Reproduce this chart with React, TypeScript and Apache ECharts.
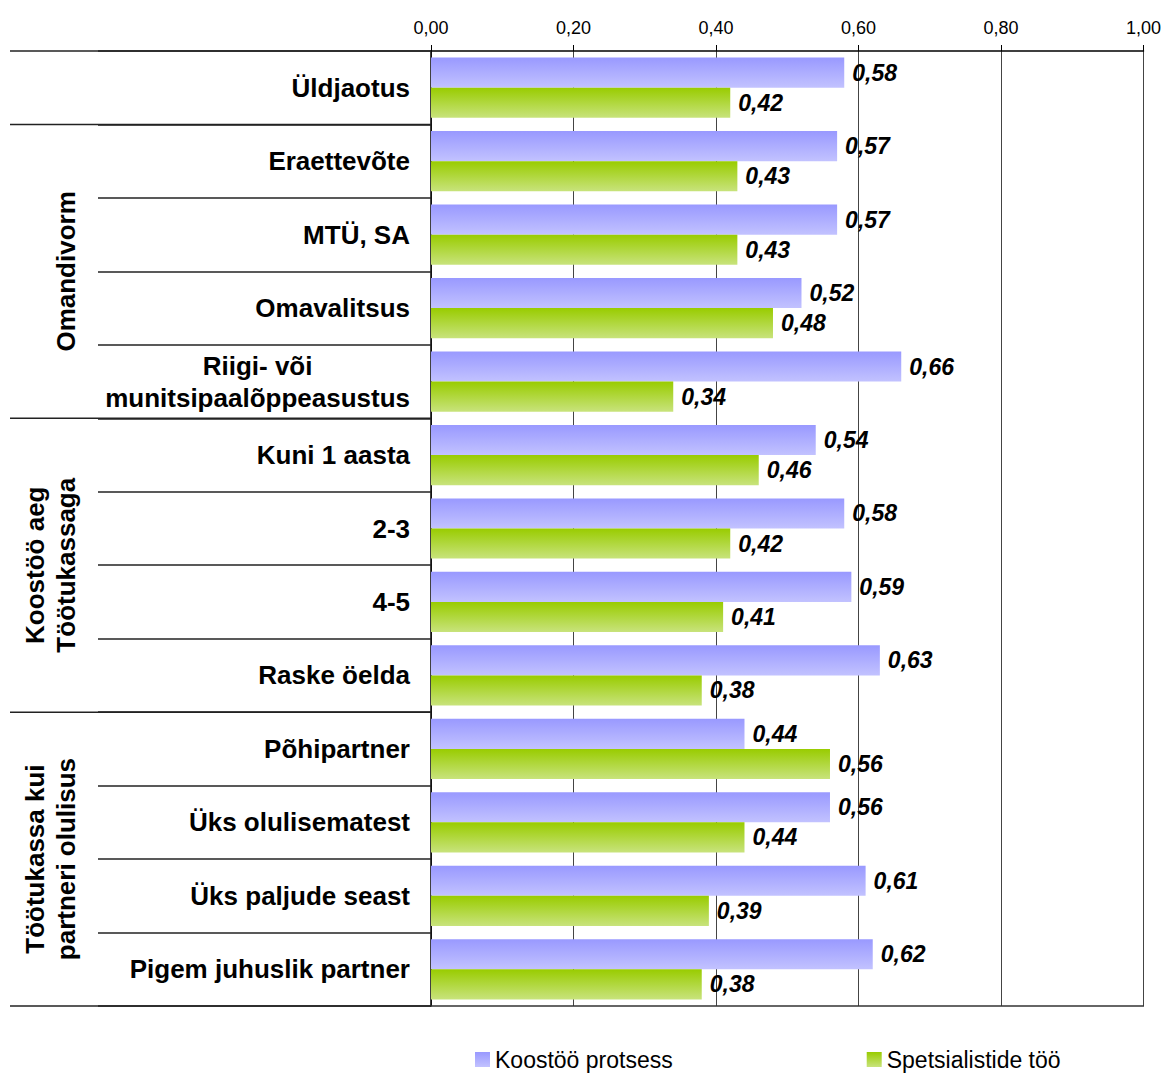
import React, { useEffect, useRef } from "react";
import * as echarts from "echarts";

const categories = [
  "Üldjaotus",
  "Eraettevõte",
  "MTÜ, SA",
  "Omavalitsus",
  "Riigi- või\nmunitsipaalõppeasustus",
  "Kuni 1 aasta",
  "2-3",
  "4-5",
  "Raske öelda",
  "Põhipartner",
  "Üks olulisematest",
  "Üks paljude seast",
  "Pigem juhuslik partner",
];
const koostoo = [0.58, 0.57, 0.57, 0.52, 0.66, 0.54, 0.58, 0.59, 0.63, 0.44, 0.56, 0.61, 0.62];
const spetsialistid = [0.42, 0.43, 0.43, 0.48, 0.34, 0.46, 0.42, 0.41, 0.38, 0.56, 0.44, 0.39, 0.38];
const seriesNames = ["Koostöö protsess", "Spetsialistide töö"];
const xTicks = { min: 0, max: 1, interval: 0.2 };
// groups: label, start index, count
const groups = [
  { label: "", start: 0, count: 1 },
  { label: "Omandivorm", start: 1, count: 4 },
  { label: "Koostöö aeg\nTöötukassaga", start: 5, count: 4 },
  { label: "Töötukassa kui\npartneri olulisus", start: 9, count: 4 },
];

const FONT = '"Liberation Sans", Arial, sans-serif';
const W = 1164;
const H = 1073;
const GRID = { left: 431, right: 20, top: 51, bottom: 67 };

function fmt(v: number) {
  return v.toFixed(2).replace(".", ",");
}

export default function App() {
  const ref = useRef<HTMLDivElement>(null);
  useEffect(() => {
    if (!ref.current) return;
    const chart = echarts.init(ref.current, undefined, { renderer: "svg" });
    const plotTop = GRID.top;
    const plotBottom = H - GRID.bottom;
    const plotRight = W - GRID.right;
    const rowH = (plotBottom - plotTop) / categories.length;

    const graphics: any[] = [];
    const boundaries = new Set<number>();
    groups.forEach((g) => {
      boundaries.add(g.start);
      boundaries.add(g.start + g.count);
    });
    boundaries.forEach((b) => {
      const y = plotTop + b * rowH;
      graphics.push({
        type: "line",
        shape: { x1: 10, y1: y, x2: GRID.left, y2: y },
        style: { stroke: "#222", lineWidth: 1.5 },
        z: 10,
      });
    });
    graphics.push({
      type: "line",
      shape: { x1: GRID.left, y1: plotBottom, x2: plotRight, y2: plotBottom },
      style: { stroke: "#333", lineWidth: 1.5 },
      z: 10,
    });
    groups.forEach((g) => {
      if (!g.label) return;
      const cy = plotTop + (g.start + g.count / 2) * rowH;
      const twoLines = g.label.includes("\n");
      graphics.push({
        type: "text",
        x: twoLines ? 50 : 66,
        y: cy,
        rotation: Math.PI / 2,
        style: {
          text: g.label,
          fill: "#000",
          font: `bold 26px ${FONT}`,
          textAlign: "center",
          textVerticalAlign: "middle",
          lineHeight: 31,
        },
        z: 10,
      });
    });

    const mkGrad = (a: string, b: string) =>
      new echarts.graphic.LinearGradient(0, 0, 0, 1, [
        { offset: 0, color: a },
        { offset: 1, color: b },
      ]);

    const labelCfg = {
      show: true,
      position: "right",
      distance: 8,
      formatter: (p: any) => fmt(p.value),
      fontFamily: FONT,
      fontSize: 23,
      fontWeight: "bold",
      fontStyle: "italic",
      color: "#000",
    };

    chart.setOption({
      animation: false,
      backgroundColor: "#fff",
      grid: { ...GRID, containLabel: false },
      legend: {
        data: seriesNames,
        left: 470,
        top: 1043,
        itemWidth: 15,
        itemHeight: 15,
        itemGap: 194,
        icon: "rect",
        textStyle: { fontFamily: FONT, fontSize: 23, color: "#000" },
      },
      xAxis: {
        type: "value",
        position: "top",
        min: xTicks.min,
        max: xTicks.max,
        interval: xTicks.interval,
        axisLine: { show: true, lineStyle: { color: "#000", width: 1.5 } },
        axisTick: { show: true, length: 6, lineStyle: { color: "#000" } },
        axisLabel: {
          formatter: (v: number) => fmt(v),
          fontFamily: FONT,
          fontSize: 18,
          color: "#000",
          margin: 14,
        },
        splitLine: { show: true, lineStyle: { color: "#444", width: 1 } },
      },
      yAxis: {
        type: "category",
        data: categories,
        inverse: true,
        axisLine: { show: true, lineStyle: { color: "#000", width: 1.5 } },
        axisTick: { show: true, length: GRID.left - 98, lineStyle: { color: "#222", width: 1.5 } },
        axisLabel: {
          margin: 21,
          fontFamily: FONT,
          fontSize: 26,
          fontWeight: "bold",
          color: "#000",
          lineHeight: 32,
          formatter: (v: string) => {
            if (v.includes("\n")) {
              return v
                .split("\n")
                .map((s) => `{c|${s}}`)
                .join("\n");
            }
            return v;
          },
          rich: {
            c: {
              align: "center",
              fontFamily: FONT,
              fontSize: 26,
              fontWeight: "bold",
              color: "#000",
              lineHeight: 32,
            },
          },
        },
      },
      series: [
        {
          name: seriesNames[0],
          type: "bar",
          data: koostoo,
          barGap: "0%",
          barCategoryGap: "18%",
          itemStyle: { color: mkGrad("#9999ff", "#c2c2ff") },
          label: labelCfg,
        },
        {
          name: seriesNames[1],
          type: "bar",
          data: spetsialistid,
          barGap: "0%",
          barCategoryGap: "18%",
          itemStyle: { color: mkGrad("#99cc00", "#c8e37c") },
          label: labelCfg,
        },
      ],
      graphic: graphics,
    });
    return () => chart.dispose();
  }, []);
  return (
    <div
      ref={ref}
      style={{ position: "absolute", left: 0, top: 0, width: W, height: H, overflow: "hidden" }}
    />
  );
}
